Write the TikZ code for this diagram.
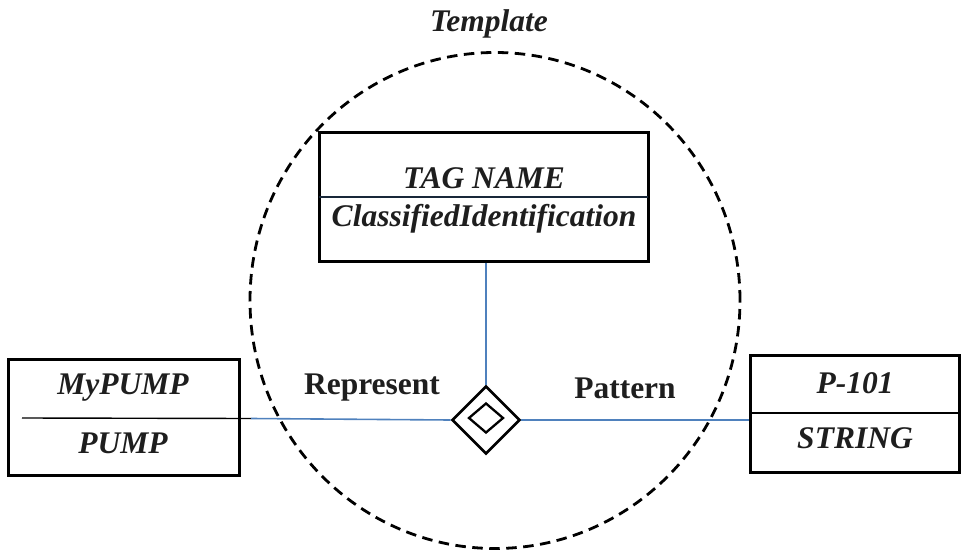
\documentclass[tikz,border=0pt]{standalone}
\usepackage{fontspec}
\setmainfont{Liberation Serif}[
  UprightFont={Liberation Serif},
  BoldFont={Liberation Serif Bold},
  ItalicFont={Liberation Serif Italic},
  BoldItalicFont={Liberation Serif Bold Italic}]
\usetikzlibrary{shapes.geometric}
\definecolor{linkblue}{RGB}{79,129,189}
\definecolor{ink}{RGB}{30,30,30}
\begin{document}
\begin{tikzpicture}[x=1pt,y=-1pt,
  classbox/.style={draw=black,line width=3pt,rectangle,inner sep=0pt},
  lbl/.style={text=ink,font=\fontsize{31.5}{36}\selectfont\bfseries\itshape,inner sep=0pt,anchor=center},
  rel/.style={text=ink,font=\fontsize{31.5}{36}\selectfont\bfseries,inner sep=0pt,anchor=center},
  link/.style={draw=linkblue,line width=1.6pt},
  divider/.style={draw=black,line width=1.4pt}]
\useasboundingbox (0,0) rectangle (961,551);

% template boundary
\node[ellipse,draw=black,line width=2.8pt,dash pattern=on 10.5pt off 6.5pt,
      minimum width=490pt,minimum height=496pt,inner sep=0pt] (tpl) at (495,300.5) {};
\node[lbl] (title) at (489,24) {Template};

% classifier box
\node[classbox,minimum width=329pt,minimum height=129pt] (tag) at (483.5,196.5) {};
\coordinate (tagdl) at (319,197);
\coordinate (tagdr) at (648,197);
\draw[draw=black!70!linkblue,line width=1.2pt] (tagdl) -- (tagdr);
\node[lbl] (tagname) at (484,178) {TAG NAME};
\node[lbl] (tagtype) at (484,219) {ClassifiedIdentification};

% instance box
\node[classbox,minimum width=231pt,minimum height=116pt] (pump) at (123.5,417) {};
\coordinate (pumpdl) at (22,418);
\node[lbl] (pumpname) at (123,388) {MyPUMP};
\node[lbl] (pumptype) at (123,443) {PUMP};

% value box
\node[classbox,minimum width=209pt,minimum height=117pt] (val) at (854.5,413.5) {};
\coordinate (valdl) at (750,413);
\coordinate (valdr) at (959,413);
\draw[divider] (valdl) -- (valdr);
\node[lbl] (valname) at (855,383) {P-101};
\node[lbl] (valtype) at (855,438) {STRING};

% relationship symbol
\node[diamond,draw=black,line width=2.6pt,minimum width=68pt,minimum height=68pt,inner sep=0pt] (rel) at (486,420) {};
\node[diamond,draw=black,line width=2.3pt,minimum width=35pt,minimum height=30pt,inner sep=0pt] (relin) at (486,418) {};

% connectors
\coordinate (pumpout) at (251,418.5);
\draw[divider] (pumpdl) -- (pumpout);
\draw[link] (pumpout) -- (rel.west);
\draw[link] (rel.north) -- (rel.north |- tag.south);
\draw[link] (rel.east) -- (rel.east -| val.west);

\node[rel] (lrep) at (372,388) {Represent};
\node[rel] (lpat) at (625,388) {Pattern};
\end{tikzpicture}
\end{document}
